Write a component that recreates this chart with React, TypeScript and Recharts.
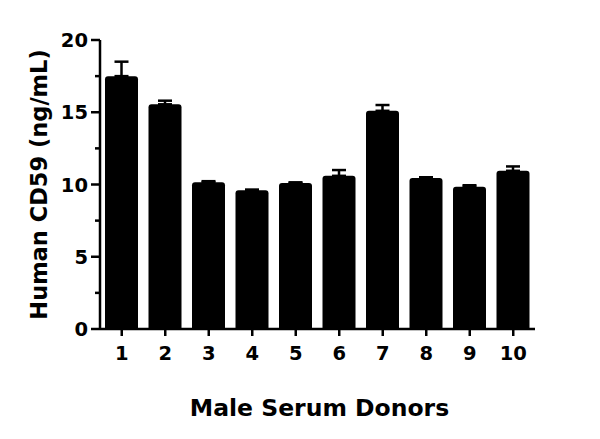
import React from 'react';
import { BarChart, Bar, XAxis, YAxis, ErrorBar } from 'recharts';

const donors = ['1', '2', '3', '4', '5', '6', '7', '8', '9', '10'];
const cd59 = [17.5, 15.55, 10.15, 9.6, 10.1, 10.6, 15.1, 10.45, 9.85, 10.95];
const sem = [1.0, 0.25, 0.08, 0.05, 0.05, 0.4, 0.4, 0.05, 0.1, 0.3];
const yTicks = [0, 2.5, 5, 7.5, 10, 12.5, 15, 17.5, 20];
const yMajor = [0, 5, 10, 15, 20];

const data = donors.map((d, i) => ({ donor: d, value: cd59[i], err: [0, sem[i]] }));

const FONT = '"DejaVu Sans", sans-serif';

const YTick = (props: any) => {
  const { x, y, payload } = props;
  const v = payload.value;
  const major = yMajor.includes(v);
  return (
    <g>
      <line x1={major ? x + 3 : x + 7} x2={x + 12} y1={y} y2={y} stroke="#000" strokeWidth={2.5} />
      {major && (
        <text x={x} y={y} dy="0.36em" textAnchor="end" fontFamily={FONT} fontWeight="bold" fontSize={19.5} fill="#000">
          {v}
        </text>
      )}
    </g>
  );
};

const YLabel = (props: any) => {
  const vb = props.viewBox;
  const cx = vb.x + 47;
  const cy = vb.y + vb.height / 2;
  return (
    <text x={cx} y={cy} transform={`rotate(-90, ${cx}, ${cy})`} textAnchor="middle" fontFamily={FONT} fontWeight="bold" fontSize={22.5} fill="#000">
      Human CD59 (ng/mL)
    </text>
  );
};

const XLabel = (props: any) => {
  const vb = props.viewBox;
  const cx = vb.x + vb.width / 2 + 2;
  const cy = vb.y + 87;
  return (
    <text x={cx} y={cy} textAnchor="middle" fontFamily={FONT} fontWeight="bold" fontSize={23.5} fill="#000">
      Male Serum Donors
    </text>
  );
};

export default function App() {
  return (
    <div style={{ position: 'absolute', left: 0, top: 0, width: 600, height: 439, background: '#fff' }}>
      <BarChart width={600} height={439} data={data} margin={{ top: 40, right: 65, bottom: 0, left: 0 }} barCategoryGap={0}>
        <XAxis
          dataKey="donor"
          height={110}
          axisLine={{ stroke: '#000', strokeWidth: 2.5 }}
          tickLine={{ stroke: '#000', strokeWidth: 2.5 }}
          tickSize={7}
          tickMargin={10}
          tick={{ fill: '#000', fontFamily: FONT, fontWeight: 'bold', fontSize: 19.5 }}
          interval={0}
          label={{ content: XLabel }}
        />
        <YAxis
          width={100}
          domain={[0, 20]}
          ticks={yTicks}
          interval={0}
          axisLine={{ stroke: '#000', strokeWidth: 2.5 }}
          tickLine={false}
          tickSize={9}
          tickMargin={3}
          tick={<YTick />}
          label={{ content: YLabel }}
        />
        <Bar dataKey="value" fill="#000" barSize={33} radius={[3, 3, 0, 0]} isAnimationActive={false}>
          <ErrorBar dataKey="err" direction="y" width={7} stroke="#000" strokeWidth={2.5} isAnimationActive={false} />
        </Bar>
      </BarChart>
    </div>
  );
}
